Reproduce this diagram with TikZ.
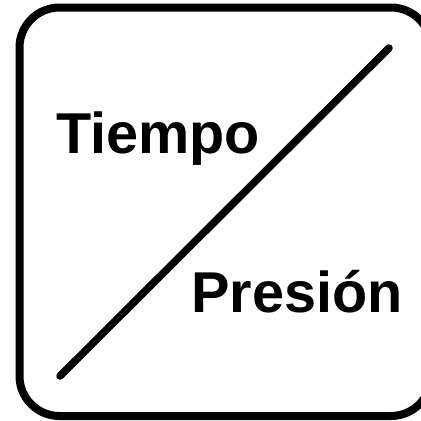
\documentclass[tikz,border=0pt]{standalone}
\usepackage{fontspec}
\setmainfont{Liberation Sans}
\tikzset{lbl/.style={font=\fontsize{57.6}{57.6}\selectfont\bfseries,inner sep=0pt,anchor=base west}}
\begin{document}
\begin{tikzpicture}[x=1pt,y=-1pt]
\useasboundingbox (0,0) rectangle (421,421);
\fill[white] (0,0) rectangle (421,421);
\draw[line width=8pt,rounded corners=40pt] (19.5,7.5) rectangle (431,416);
\coordinate (a) at (60,376);
\coordinate (b) at (389,48);
\draw[line width=7.5pt,line cap=round] (a) -- (b);
\node[lbl] (t) at (56,153) {Tiempo};
\node[lbl] (p) at (191,312) {Presión};
\end{tikzpicture}
\end{document}
